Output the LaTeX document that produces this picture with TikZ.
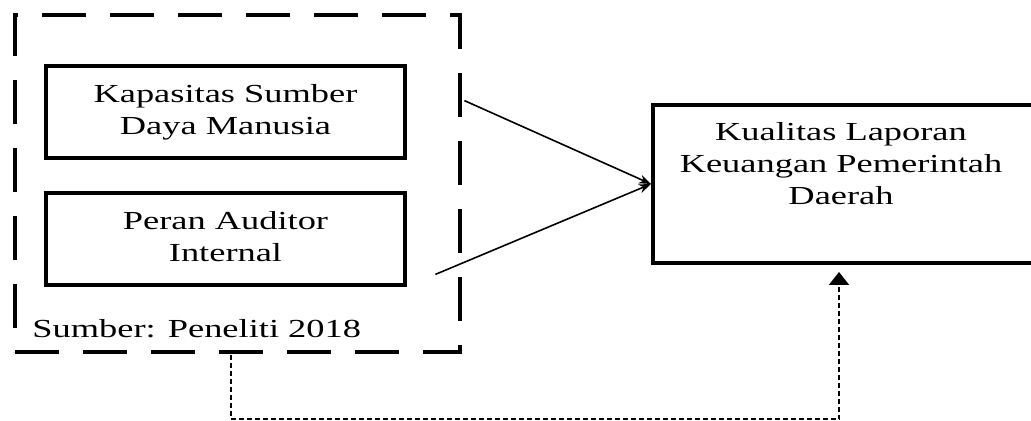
\documentclass[tikz,border=0pt]{standalone}
\usepackage{fontspec}
\setmainfont{Liberation Serif}
\usepackage{tikz}
\usetikzlibrary{calc}
\usetikzlibrary{arrows.meta}
\newcommand{\wide}[1]{\scalebox{1.4}[1]{#1}}
\newcommand{\lines}[1]{\wide{\begin{tabular}{@{}c@{}}#1\end{tabular}}}
\tikzset{
  every node/.style={font=\fontsize{13}{16}\selectfont},
  varbox/.style={draw, line width=2pt, inner sep=0pt, minimum width=179.5pt, minimum height=46pt},
  grupbox/.style={draw, line width=2.4pt, dash pattern=on 22pt off 12pt, inner sep=0pt, minimum width=222.5pt, minimum height=168.5pt},
  lapbox/.style={draw, line width=2pt, inner sep=0pt, minimum width=190pt, minimum height=79pt},
  link/.style={-{Stealth[length=6pt,width=4.5pt]}, line width=0.8pt},
  feedback/.style={-{Triangle[length=6.5pt,width=10pt]}, line width=1pt, dash pattern=on 2.5pt off 1.5pt}
}

\begin{document}
\begin{tikzpicture}[x=0.5pt, y=-0.5pt]
        \useasboundingbox (0,0) rectangle (1031,421);
        % independent variables
        \node[grupbox] (grup) at (237.5,183.5) {};
        \node[varbox] (sdm) at (225.5,112) {\lines{Kapasitas Sumber\\Daya Manusia}};
        \node[varbox] (auditor) at (225.5,239) {\lines{Peran Auditor\\Internal}};
        \node[anchor=base west, inner sep=0pt] (sumber) at (32,338) {\wide{Sumber: Peneliti 2018}};
        % dependent variable
        \node[lapbox] (lap) at (843,184) {};
        \node[anchor=north, inner sep=0pt] (laptext) at ($(lap.north)+(-2,15)$) {\lines{Kualitas Laporan\\Keuangan Pemerintah\\Daerah}};
        % connectors
        \draw[link] ($(grup.north east)+(2,88)$) -- (lap.west);
        \draw[link] ($(grup.south east)+(-27,-80)$) -- (lap.west);
        \draw[feedback] ($(grup.south west)+(218,1)$) -- ++(0,64) -| ($(lap.south west)+(188,7)$);
\end{tikzpicture}
\end{document}
